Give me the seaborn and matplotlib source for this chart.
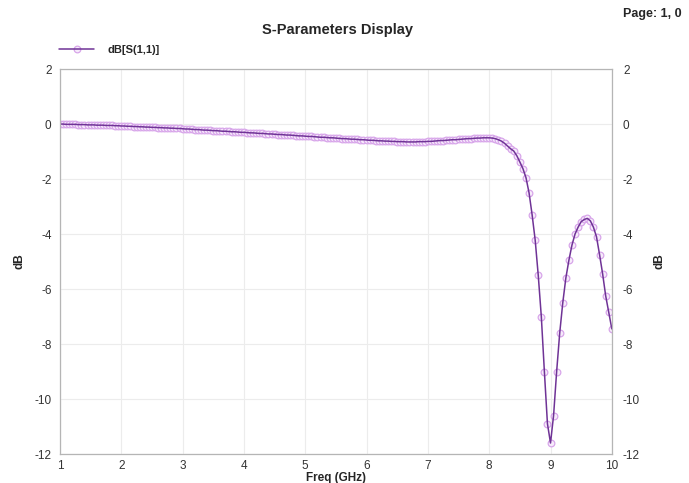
import matplotlib
matplotlib.use("Agg")
import matplotlib.pyplot as plt
import seaborn as sns
import numpy as np
import pandas as pd

# frequency axis, 0.05 GHz step from 1 to 10 GHz
freq_ghz = np.round(np.arange(1.0, 10.0001, 0.05), 2)

# dB[S(1,1)], one value per frequency point
s11_db = [
    0.00, 0.00, -0.01, -0.01, -0.01, -0.01, -0.02, -0.02, -0.02, -0.03,
    -0.03, -0.03, -0.04, -0.04, -0.04, -0.05, -0.05, -0.05, -0.06, -0.06,
    -0.07, -0.07, -0.08, -0.08, -0.09, -0.09, -0.10, -0.10, -0.11, -0.11,
    -0.12, -0.12, -0.13, -0.13, -0.14, -0.14, -0.15, -0.15, -0.16, -0.16,
    -0.17, -0.18, -0.18, -0.19, -0.20, -0.20, -0.21, -0.22, -0.22, -0.23,
    -0.24, -0.24, -0.25, -0.26, -0.26, -0.27, -0.28, -0.28, -0.29, -0.30,
    -0.30, -0.31, -0.32, -0.32, -0.33, -0.34, -0.34, -0.35, -0.36, -0.36,
    -0.37, -0.38, -0.38, -0.39, -0.40, -0.40, -0.41, -0.42, -0.43, -0.43,
    -0.44, -0.45, -0.45, -0.46, -0.47, -0.48, -0.48, -0.49, -0.50, -0.50,
    -0.51, -0.52, -0.53, -0.53, -0.54, -0.55, -0.55, -0.56, -0.57, -0.57,
    -0.58, -0.59, -0.59, -0.60, -0.61, -0.61, -0.62, -0.62, -0.63, -0.63,
    -0.64, -0.64, -0.64, -0.65, -0.65, -0.65, -0.65, -0.64, -0.64, -0.64,
    -0.63, -0.63, -0.62, -0.61, -0.60, -0.60, -0.59, -0.58, -0.57, -0.57,
    -0.56, -0.55, -0.54, -0.53, -0.53, -0.52, -0.51, -0.51, -0.50, -0.50,
    -0.50, -0.51, -0.53, -0.57, -0.62, -0.70, -0.80, -0.90, -0.98, -1.15,
    -1.38, -1.62, -1.95, -2.50, -3.30, -4.22, -5.50, -7.00, -9.00, -10.90,
    -11.60, -10.60, -9.00, -7.60, -6.50, -5.60, -4.95, -4.40, -4.00, -3.75,
    -3.55, -3.47, -3.43, -3.52, -3.75, -4.10, -4.75, -5.45, -6.25, -6.85,
    -7.45,
]

y_ticks = [-12, -10, -8, -6, -4, -2, 0, 2]
x_ticks = [1, 2, 3, 4, 5, 6, 7, 8, 9, 10]

df = pd.DataFrame({"freq": freq_ghz, "db": s11_db})

sns.set_style("whitegrid")
plt.rcParams["font.family"] = ["Liberation Sans", "DejaVu Sans"]
plt.rcParams["axes.unicode_minus"] = False

fig = plt.figure(figsize=(6.89, 4.83), dpi=100)
ax = fig.add_axes([0.087, 0.06, 0.801, 0.797])

line_color = "#6f3396"
marker_edge = "#d8a6ea"

# markers first, then the line on top of them
sns.lineplot(
    data=df, x="freq", y="db", ax=ax, color=marker_edge, linewidth=0,
    marker="o", markersize=4.8, markerfacecolor="#f7ebfb",
    markeredgecolor=marker_edge, markeredgewidth=0.9, sort=False,
)
sns.lineplot(data=df, x="freq", y="db", ax=ax, color=line_color,
             linewidth=1.1, sort=False)

ax.set_xlim(1, 10)
ax.set_ylim(-12, 2)
ax.set_xticks(x_ticks)
ax.set_yticks(y_ticks)
ax.grid(True, color="#ececec", linewidth=0.8)
for s in ax.spines.values():
    s.set_color("#b5b5b5")
    s.set_linewidth(0.9)
ax.tick_params(axis="x", length=0, labelsize=8.5, colors="#333333", pad=4)
ax.tick_params(axis="y", length=0, labelsize=8.5, colors="#333333", pad=6)
ax.set_xlabel("Freq (GHz)", fontsize=8.5, fontweight="bold", labelpad=0)
ax.set_ylabel("dB", fontsize=8.5, fontweight="bold")
ax.yaxis.set_label_coords(-0.062, 0.5)

ax2 = ax.twinx()
ax2.set_ylim(-12, 2)
ax2.set_yticks(y_ticks)
ax2.grid(False)
for s in ax2.spines.values():
    s.set_visible(False)
ax2.tick_params(axis="y", length=0, labelsize=8.5, colors="#333333", pad=8)
ax2.set_ylabel("dB", fontsize=8.5, fontweight="bold")
ax2.yaxis.set_label_coords(1.075, 0.5)

fig.text(0.49, 0.938, "S-Parameters Display", ha="center", va="center",
         fontsize=10.5, fontweight="bold")
fig.text(0.99, 0.972, "Page: 1, 0", ha="right", va="center",
         fontsize=9, fontweight="bold")

# legend entry above the plot: marker and line overlaid
h_marker, h_line = ax.get_lines()[0], ax.get_lines()[1]
ax.legend([(h_marker, h_line)], ["dB[S(1,1)]"], loc="lower left",
          bbox_to_anchor=(-0.02, 1.01), frameon=False, handlelength=3.2,
          handletextpad=1.2, prop={"weight": "bold", "size": 8})

fig.savefig("out.png", dpi=100)
